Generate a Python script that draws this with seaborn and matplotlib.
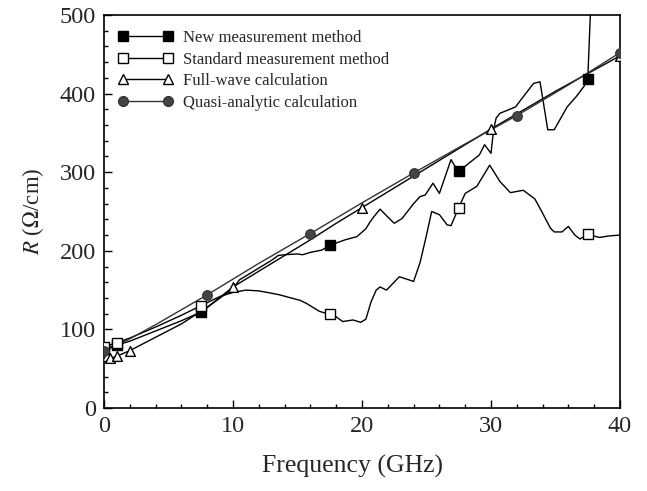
import matplotlib
matplotlib.use("Agg")
import matplotlib.pyplot as plt
import seaborn as sns
from matplotlib.lines import Line2D
from matplotlib.ticker import MultipleLocator

# ---- data: resistance per unit length vs frequency ----
# New measurement method (trace and marked samples)
new_f = [0, 1, 2, 4, 6, 7.5, 9, 10, 10.5, 11, 12, 13, 13.5, 14, 15, 15.4, 16, 16.9, 17.5,
         18.7, 19.6, 20.3, 20.6, 20.9, 21.4, 22.0, 22.5, 23.1, 24.0, 24.5, 24.9, 25.5,
         26.0, 26.9, 27.3, 27.5, 28.1, 29.1, 29.5, 30.0, 30.2, 30.4, 30.7, 31.9, 32.5,
         33.3, 33.8, 34.4, 34.9, 35.9, 36.6, 37.2, 37.5, 37.7, 37.8]
new_r = [75, 80, 85, 98, 111, 122, 140, 152, 163, 168, 178, 188, 194, 195, 196, 195, 198, 201, 207,
         214, 218, 228, 236, 243, 253, 243, 235, 241, 260, 269, 271, 286,
         273, 316, 305, 301, 309, 322, 335, 324, 354, 369, 375, 383, 396,
         413, 415, 354, 354, 383, 396, 409, 418, 500, 530]
new_mf = [0, 1, 7.5, 17.5, 27.5, 37.5]
new_mr = [75, 80, 122, 207, 302, 418]

# Standard measurement method
std_f = [0, 1, 2, 4, 6, 7.5, 9, 10, 11, 12, 13, 13.6, 14.5, 15.2, 15.7, 16.1, 16.7, 17.5,
         18.0, 18.5, 19.3, 19.9, 20.3, 20.7, 21.1, 21.4, 21.9, 22.9, 24.0, 24.5, 25.0,
         25.4, 26.0, 26.6, 26.9, 27.5, 28.0, 28.9, 29.9, 30.7, 31.5, 32.5, 33.4, 33.8,
         34.6, 34.9, 35.5, 36.0, 36.5, 36.9, 37.5, 38.4, 39.2, 40.0]
std_r = [78, 83, 89, 103, 118, 130, 142, 147, 150, 149, 146, 144, 140, 137, 133, 129, 123, 119,
         116, 110, 112, 109, 113, 135, 150, 154, 150, 167, 161, 185, 220,
         250, 246, 233, 232, 255, 273, 282, 309, 288, 274, 277, 266, 254,
         229, 224, 224, 231, 220, 215, 221, 217, 219, 220]
std_mf = [0, 1, 7.5, 17.5, 27.5, 37.5]
std_mr = [78, 83, 130, 119, 255, 221]

# Full-wave calculation
fw_f = [0, 0.2, 0.5, 1, 2, 4, 6, 8, 10, 12, 14, 16, 18, 20, 25, 30, 35, 40]
fw_r = [70, 66, 63, 66, 73, 90, 107, 128, 154, 174, 194, 214, 235, 255, 305, 355, 403, 448]
fw_mf = [0.2, 0.5, 1, 2, 10, 20, 30, 40]
fw_mr = [66, 63, 66, 73, 154, 255, 355, 448]

# Quasi-analytic calculation
qa_f = [0, 1, 2, 4, 6, 8, 10, 12, 14, 16, 20, 24, 28, 32, 36, 40]
qa_r = [72, 80, 88, 106, 125, 144, 164, 184, 203, 222, 261, 299, 336, 372, 411, 452]
qa_mf = [0, 8, 16, 24, 32, 40]
qa_mr = [72, 144, 222, 299, 372, 452]

labels = ["New measurement method", "Standard measurement method",
          "Full-wave calculation", "Quasi-analytic calculation"]
xticks = [0, 10, 20, 30, 40]
yticks = [0, 100, 200, 300, 400, 500]

# ---- style ----
sns.set_style("ticks")
plt.rcParams["font.family"] = ["Liberation Serif", "DejaVu Serif"]
plt.rcParams["mathtext.fontset"] = "stix"

fig = plt.figure(figsize=(6.47, 4.91), dpi=100)
ax = fig.add_axes([104 / 647, 1 - 408 / 491, 516 / 647, 393 / 491])

lw = 1.0
sns.lineplot(x=std_f, y=std_r, sort=False, estimator=None, color="black", lw=lw, ax=ax)
sns.lineplot(x=new_f, y=new_r, sort=False, estimator=None, color="black", lw=lw, ax=ax)
sns.lineplot(x=fw_f, y=fw_r, sort=False, estimator=None, color="black", lw=lw, ax=ax)
sns.lineplot(x=qa_f, y=qa_r, sort=False, estimator=None, color="#333333", lw=lw, ax=ax)

ms = 7
sns.scatterplot(x=new_mf, y=new_mr, marker="s", s=ms ** 2, color="black",
                edgecolor="black", linewidth=1, zorder=5, ax=ax)
sns.scatterplot(x=std_mf, y=std_mr, marker="s", s=ms ** 2, color="white",
                edgecolor="black", linewidth=1, zorder=5, ax=ax)
sns.scatterplot(x=fw_mf, y=fw_mr, marker="^", s=ms ** 2, color="white",
                edgecolor="black", linewidth=1, zorder=5, ax=ax)
sns.scatterplot(x=qa_mf, y=qa_mr, marker="o", s=ms ** 2, color="#444444",
                edgecolor="#333333", linewidth=0.8, zorder=5, ax=ax)

ax.set_xlim(0, 40)
ax.set_ylim(0, 500)
ax.set_xticks(xticks)
ax.set_yticks(yticks)
ax.xaxis.set_minor_locator(MultipleLocator(2))
ax.yaxis.set_minor_locator(MultipleLocator(20))
ax.tick_params(which="both", direction="in", top=False, right=False,
               labelsize=17.5, width=1, color="black")
ax.tick_params(which="major", length=6, pad=6)
ax.tick_params(which="minor", length=3)
for sp in ax.spines.values():
    sp.set_linewidth(1.2)
    sp.set_color("black")

ax.set_xlabel("Frequency (GHz)", fontsize=18.5, labelpad=13, x=0.481)
ax.set_ylabel(r"$R$ ($\Omega$/cm)", fontsize=16.5, labelpad=10)

handles = [
    Line2D([0], [0], color="black", lw=lw, marker="s", markersize=ms,
           markerfacecolor="black", markeredgecolor="black"),
    Line2D([0], [0], color="black", lw=lw, marker="s", markersize=ms,
           markerfacecolor="white", markeredgecolor="black"),
    Line2D([0], [0], color="black", lw=lw, marker="^", markersize=ms,
           markerfacecolor="white", markeredgecolor="black"),
    Line2D([0], [0], color="#333333", lw=lw, marker="o", markersize=ms,
           markerfacecolor="#444444", markeredgecolor="#333333"),
]
ax.legend(handles, labels, loc="upper left", bbox_to_anchor=(0.028, 0.961),
          frameon=False, numpoints=2, handlelength=3.3, handletextpad=0.55,
          labelspacing=0.33, borderpad=0, borderaxespad=0, fontsize=12)

fig.savefig("out.png", dpi=100)
